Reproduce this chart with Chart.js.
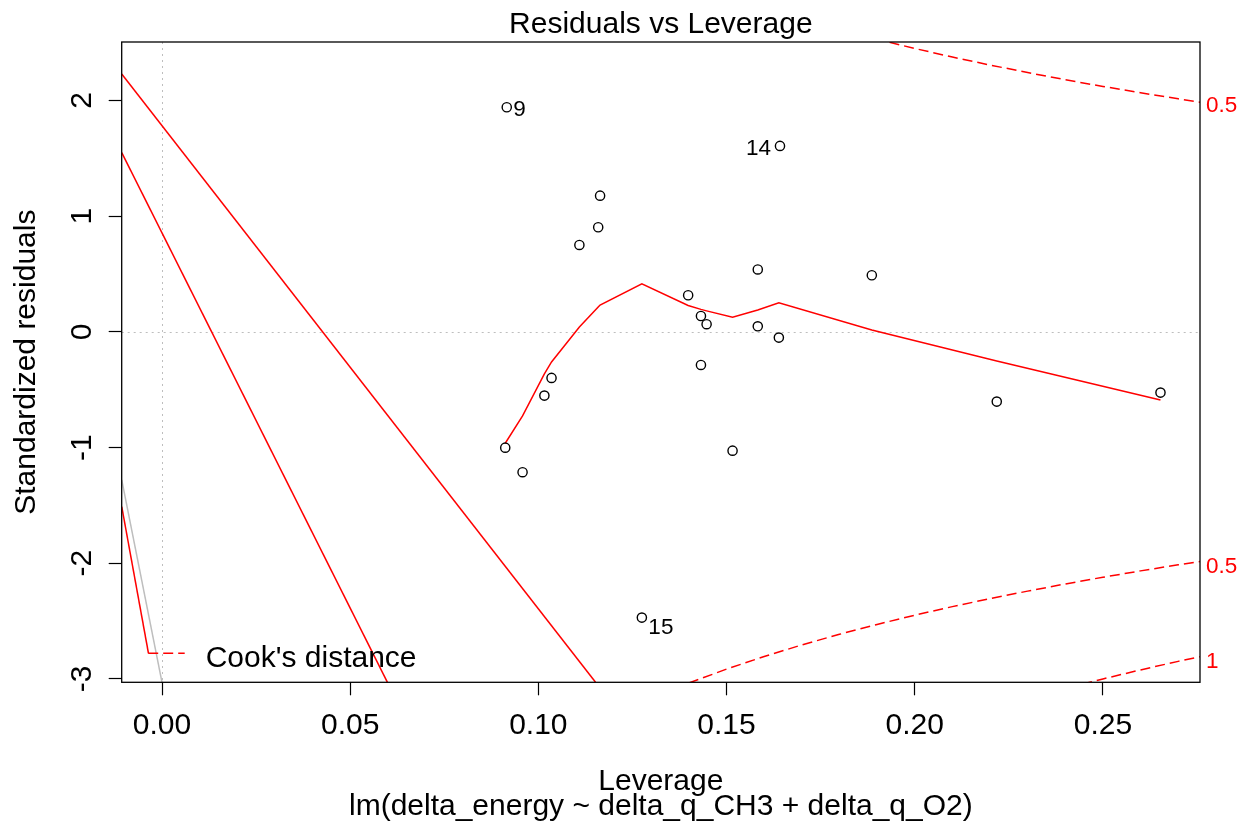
<!DOCTYPE html>
<html>
<head>
<meta charset="utf-8">
<script src="https://cdn.jsdelivr.net/npm/chart.js@4.4.1/dist/chart.umd.min.js"></script>
<style>
  html, body { margin: 0; padding: 0; background: #fff; overflow: hidden; }
  #wrap { width: 1244px; height: 825px; position: relative; }
</style>
</head>
<body>
<div id="wrap"><canvas id="rvl"></canvas></div>
<script>
// observations (obs 1..21): leverage and standardized residuals
const leverage = [0.1016, 0.1109, 0.1398, 0.0912, 0.1432, 0.1583, 0.1447, 0.1164, 0.0916, 0.1035,
                  0.1583, 0.1516, 0.1159, 0.1642, 0.1275, 0.0958, 0.1432, 0.1886, 0.1639, 0.2218, 0.2653];
const stdResid = [-0.551, 0.751, 0.316, -1.001, 0.137, 0.539, 0.066, 1.177, 1.941, -0.398,
                  0.048, -1.027, 0.904, 1.607, -2.470, -1.213, -0.286, 0.489, -0.050, -0.603, -0.525];
const idObs = [9, 14, 15];

// red smoother
const smoothX = [0.0912, 0.0958, 0.1016, 0.1035, 0.1109, 0.1159, 0.1164, 0.1275, 0.1398, 0.1432,
                 0.1447, 0.1516, 0.1583, 0.1639, 0.1886, 0.2218, 0.2653];
const smoothY = [-0.963, -0.727, -0.364, -0.260, 0.042, 0.215, 0.232, 0.414, 0.228, 0.194,
                 0.181, 0.126, 0.189, 0.252, 0.016, -0.252, -0.589];

// Cook's distance contours
const cookH = [0.14, 0.15, 0.16, 0.17, 0.18, 0.19, 0.20, 0.21, 0.22, 0.23, 0.24, 0.25, 0.26, 0.27, 0.28];
const cookUp05 = [3.035, 2.915, 2.806, 2.706, 2.614, 2.529, 2.449, 2.375, 2.306, 2.241, 2.179, 2.121, 2.066, 2.014, 1.964];
const cookLow05 = [-3.035, -2.915, -2.806, -2.706, -2.614, -2.529, -2.449, -2.375, -2.306, -2.241, -2.179, -2.121, -2.066, -2.014, -1.964];
const cookLow1 = [-4.292, -4.122, -3.968, -3.827, -3.697, -3.577, -3.463, -3.359, -3.261, -3.169, -3.082, -3.000, -2.922, -2.848, -2.778];
const cookLabels = ['0.5', '0.5', '1'];
const cookAt = [1.993, -1.993, -2.807];

// stray segments at the left of the panel
const strayRedA = [{ x: -0.0107, y: 2.229 }, { x: 0.1152, y: -3.029 }];
const strayRedB = [{ x: -0.0107, y: 1.549 }, { x: 0.0599, y: -3.029 }];
const strayRedC = [{ x: -0.0107, y: -1.511 }, { x: -0.0036, y: -2.778 }];
const strayGrey = [{ x: -0.0107, y: -1.280 }, { x: 0.0, y: -3.029 }];

// axes
const xTicks = [0, 0.05, 0.10, 0.15, 0.20, 0.25];
const yTicks = [-3, -2, -1, 0, 1, 2];
const xRange = [-0.01071, 0.2758];
const yRange = [-3.029, 2.505];

const FONT = '"Liberation Sans", Arial, Helvetica, sans-serif';
const pts = (xs, ys) => xs.map((v, i) => ({ x: v, y: ys[i] }));

const decor = {
    id: 'decor',
    beforeDatasetsDraw(chart) {
        const { ctx, chartArea: a, scales: { x, y } } = chart;
        ctx.save();
        ctx.beginPath();
        ctx.rect(a.left, a.top, a.right - a.left, a.bottom - a.top);
        ctx.clip();
        ctx.strokeStyle = '#bebebe';
        ctx.lineWidth = 1;
        ctx.setLineDash([2, 4]);
        const x0 = Math.round(x.getPixelForValue(0)) + 0.5;
        const y0 = Math.round(y.getPixelForValue(0)) + 0.5;
        ctx.beginPath();
        ctx.moveTo(x0, a.top); ctx.lineTo(x0, a.bottom);
        ctx.moveTo(a.left, y0); ctx.lineTo(a.right, y0);
        ctx.stroke();
        ctx.restore();
    },
    afterDraw(chart) {
        const { ctx, chartArea: a, scales: { x, y } } = chart;
        const cx = (a.left + a.right) / 2;
        const cy = (a.top + a.bottom) / 2;
        ctx.save();
        // box
        ctx.strokeStyle = '#000';
        ctx.lineWidth = 1.3;
        ctx.setLineDash([]);
        ctx.strokeRect(a.left, a.top, a.right - a.left, a.bottom - a.top);

        ctx.fillStyle = '#000';
        ctx.textBaseline = 'alphabetic';
        ctx.font = '30px ' + FONT;
        // x tick labels
        ctx.textAlign = 'center';
        xTicks.forEach(v => ctx.fillText(v.toFixed(2), x.getPixelForValue(v), a.bottom + 52));
        // y tick labels, rotated
        yTicks.forEach(v => {
            ctx.save();
            ctx.translate(a.left - 31, y.getPixelForValue(v));
            ctx.rotate(-Math.PI / 2);
            ctx.fillText(String(v), 0, 0);
            ctx.restore();
        });
        // titles
        ctx.fillText('Residuals vs Leverage', cx, 32.5);
        ctx.fillText('Leverage', cx, 790);
        ctx.fillText('lm(delta_energy ~ delta_q_CH3 + delta_q_O2)', cx, 815);
        ctx.save();
        ctx.translate(35, cy);
        ctx.rotate(-Math.PI / 2);
        ctx.fillText('Standardized residuals', 0, 0);
        ctx.restore();

        // legend
        ctx.strokeStyle = '#ff0000';
        ctx.lineWidth = 1.5;
        ctx.setLineDash([10, 5]);
        ctx.beginPath();
        ctx.moveTo(a.left + 26.5, a.bottom - 29);
        ctx.lineTo(a.left + 63, a.bottom - 29);
        ctx.stroke();
        ctx.setLineDash([]);
        ctx.textAlign = 'left';
        ctx.fillText("Cook's distance", a.left + 84, a.bottom - 15.5);

        // Cook's levels on the right
        ctx.fillStyle = '#ff0000';
        ctx.font = '22.5px ' + FONT;
        cookLabels.forEach((t, i) => ctx.fillText(t, a.right + 6, y.getPixelForValue(cookAt[i]) + 11));

        // point ids: right of the point in the left half of the labelled range, else left
        ctx.fillStyle = '#000';
        const idX = idObs.map(o => leverage[o - 1]);
        const mid = (Math.min(...idX) + Math.max(...idX)) / 2;
        const nudge = { 9: 8.5, 14: 9, 15: 16.5 };
        idObs.forEach(o => {
            const px = x.getPixelForValue(leverage[o - 1]);
            const py = y.getPixelForValue(stdResid[o - 1]);
            const right = leverage[o - 1] <= mid;
            ctx.textAlign = right ? 'left' : 'right';
            ctx.fillText(String(o), px + (right ? 6.5 : -9), py + nudge[o]);
        });
        ctx.restore();
    }
};

const lineDs = (data, color, dash) => ({
    data, showLine: true, borderColor: color, borderWidth: 1.5,
    borderDash: dash || [], pointRadius: 0, fill: false, clip: 0
});

new Chart(document.getElementById('rvl'), {
    type: 'scatter',
    data: {
        datasets: [
            {
                data: pts(leverage, stdResid), pointStyle: 'circle', pointRadius: 4.6,
                borderColor: '#000', borderWidth: 1.4, backgroundColor: 'rgba(0,0,0,0)', clip: false
            },
            lineDs(pts(smoothX, smoothY), '#ff0000'),
            lineDs(pts(cookH, cookUp05), '#ff0000', [10, 5]),
            lineDs(pts(cookH, cookLow05), '#ff0000', [10, 5]),
            lineDs(pts(cookH, cookLow1), '#ff0000', [10, 5]),
            lineDs(strayRedA, '#ff0000'),
            lineDs(strayRedB, '#ff0000'),
            lineDs(strayRedC, '#ff0000'),
            lineDs(strayGrey, '#bebebe')
        ]
    },
    options: {
        responsive: true,
        maintainAspectRatio: false,
        animation: false,
        events: [],
        layout: { padding: { top: 42, right: 44, left: 0, bottom: 0 } },
        plugins: { legend: { display: false }, tooltip: { enabled: false } },
        scales: {
            x: {
                type: 'linear', min: xRange[0], max: xRange[1],
                afterBuildTicks: s => { s.ticks = xTicks.map(v => ({ value: v })); },
                afterFit: s => { s.height = 825 - 682.3; },
                ticks: { display: false },
                border: { display: false },
                grid: { drawOnChartArea: false, drawTicks: true, tickLength: 13, tickColor: '#000', tickWidth: 1.2 }
            },
            y: {
                type: 'linear', min: yRange[0], max: yRange[1],
                afterBuildTicks: s => { s.ticks = yTicks.map(v => ({ value: v })); },
                afterFit: s => { s.width = 121.7; },
                ticks: { display: false },
                border: { display: false },
                grid: { drawOnChartArea: false, drawTicks: true, tickLength: 13, tickColor: '#000', tickWidth: 1.2 }
            }
        }
    },
    plugins: [decor]
});
</script>
</body>
</html>
